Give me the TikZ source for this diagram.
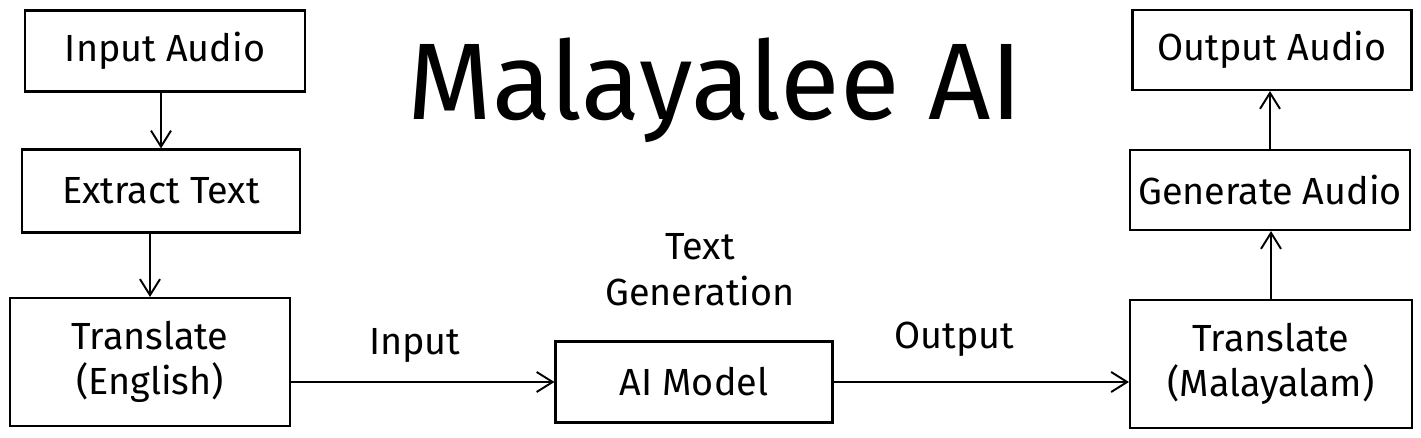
\documentclass[tikz,border=0pt]{standalone}
\usepackage{fontspec}
\setmainfont{Fira Sans}
\usepackage{tikz}
\usetikzlibrary{arrows.meta,positioning,calc}

\tikzset{
	block/.style={rectangle, draw, line width=1.2pt, minimum width=5.6cm, minimum height=1.62cm, align=center, font=\fontsize{21.5}{26}\selectfont},
	bigblock/.style={block, minimum height=2.56cm},
	arr/.style={line width=1.1pt, -{Straight Barb[length=3.2mm, width=4mm]}},
	lbl/.style={font=\fontsize{21.5}{26}\selectfont, align=center}
}

\begin{document}
\begin{tikzpicture}[x=0.02cm, y=-0.02cm]
		\useasboundingbox (0,0) rectangle (1421,438);
		% left column
		\node at (165,51) [block] (inaudio) {Input Audio};
		\node at (161,191) [block, minimum width=5.56cm, minimum height=1.66cm] (extract) {Extract Text};
		\node at (150,362) [bigblock] (transen) {Translate\\(English)};
		% middle
		\node at (715,90) [font=\fontsize{62}{70}\selectfont] (title) {Malayalee AI};
		\node at (694,382) [block, minimum width=5.54cm] (aimodel) {AI Model};
		\node at (700,270) [lbl] (gen) {Text\\Generation};
		% right column
		\node at (1272,50) [block, minimum width=5.58cm, minimum height=1.6cm] (outaudio) {Output Audio};
		\node at (1270,190) [block, minimum height=1.6cm] (genaudio) {Generate Audio};
		\node at (1271,364) [bigblock, minimum width=5.64cm] (transml) {Translate\\(Malayalam)};
		% connectors
		\draw[arr] (aimodel.west -| transen.east) -- node[lbl, pos=0.47, above=0.25cm] (inlbl) {Input} (aimodel.west);
		\draw[arr] (aimodel.east) -- node[lbl, pos=0.41, above=0.38cm] (outlbl) {Output} (aimodel.east -| transml.west);
		\draw[arr] (extract.north |- inaudio.south) -- (extract.north);
		\draw[arr] (transen.north |- extract.south) -- (transen.north);
		\draw[arr] (transml.north) -- (transml.north |- genaudio.south);
		\draw[arr] (genaudio.north) -- (genaudio.north |- outaudio.south);
\end{tikzpicture}
\end{document}
